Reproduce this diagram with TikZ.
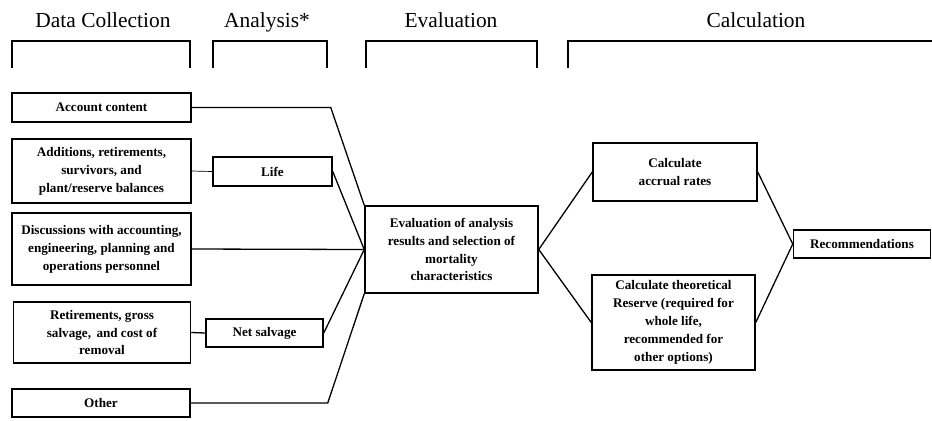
\documentclass[tikz,border=0pt]{standalone}
\usepackage{fontspec}
\setmainfont{Liberation Serif}
\usepackage{tikz}
\usetikzlibrary{positioning, calc}
\tikzset{
	head/.style   ={anchor=base, font=\fontsize{21.5}{24}\selectfont},
	brkt/.style   ={line width=1.5bp},
	box/.style    ={rectangle, draw=black, line width=1.5bp, align=center, inner sep=1bp, font=\bfseries\fontsize{13.2}{18}\selectfont},
	link/.style   ={line width=1.3bp},
	thinlink/.style={line width=0.7bp},
}
\begin{document}
\begin{tikzpicture}[x=1bp, y=-1bp]
	\useasboundingbox (0,0) rectangle (932,420);
	% stage headings and brackets
	\node[head] (hdata) at (103,27) {Data Collection};
	\node[head] (hana)  at (267,27) {Analysis*};
	\node[head] (heval) at (451,27) {Evaluation};
	\node[head] (hcalc) at (756,27) {Calculation};
	\draw[brkt] (12,68) -- (12,41) -- (190,41) -- (190,68);
	\draw[brkt] (213,68) -- (213,41) -- (327,41) -- (327,68);
	\draw[brkt] (366,68) -- (366,41) -- (537,41) -- (537,68);
	\draw[brkt] (568,68) -- (568,41) -- (932,41);
	% data collection
	\node[box, minimum width=179bp, minimum height=29bp] (acc)  at (101.5,107.5) {Account content};
	\node[box, minimum width=179bp, minimum height=64bp] (add)  at (101.5,171) {Additions, retirements,\\ survivors, and\\ plant/reserve balances};
	\node[box, minimum width=179bp, minimum height=72bp] (disc) at (101.5,249) {Discussions with accounting,\\ engineering, planning and\\ operations personnel};
	\node[box, minimum width=177bp, minimum height=61bp] (ret)  at (102,332.5) {Retirements, gross\\ salvage,\, and cost of\\ removal};
	\node[box, minimum width=178bp, minimum height=28bp] (oth)  at (101,403) {Other};
	% analysis
	\node[box, minimum width=119bp, minimum height=29bp] (life) at (272.5,171.5) {Life};
	\node[box, minimum width=117bp, minimum height=28bp] (net)  at (264.5,333) {Net salvage};
	% evaluation
	\node[box, minimum width=173bp, minimum height=87bp] (eval) at (451.5,249.5) {Evaluation of analysis\\ results and selection of\\ mortality\\ characteristics};
	% calculation
	\node[box, minimum width=164bp, minimum height=58bp] (accr) at (675,172) {Calculate\\ accrual rates};
	\node[box, minimum width=163bp, minimum height=95bp] (theo) at (673.5,322.5) {Calculate theoretical\\ Reserve (required for\\ whole life,\\ recommended for\\ other options)};
	\node[box, minimum width=137bp, minimum height=28bp] (rec)  at (862,244) {Recommendations};
	% connectors
	\draw[link] (acc.east) -- ++(139,0) -- (eval.north west);
	\draw[thinlink] (add.east) -- (life.west);
	\draw[link] (life.east) -- (eval.west);
	\draw[link] (disc.east) -- (eval.west);
	\draw[link] (ret.east) -- (net.west);
	\draw[link] (net.east) -- (eval.west);
	\draw[link] (oth.east) -- ++(137,0) -- (eval.south west);
	\draw[link] (eval.east) -- (accr.west);
	\draw[link] (eval.east) -- (theo.west);
	\draw[link] (accr.east) -- (rec.west);
	\draw[link] (theo.east) -- (rec.west);
\end{tikzpicture}
\end{document}
